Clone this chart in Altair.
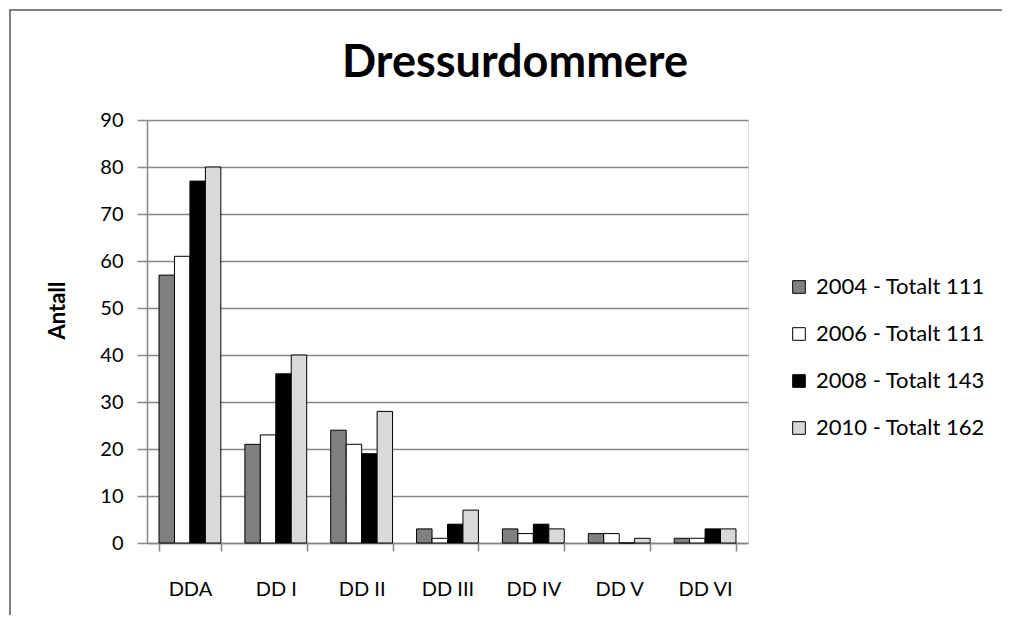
import altair as alt
import pandas as pd

categories = ["DDA", "DD I", "DD II", "DD III", "DD IV", "DD V", "DD VI"]
series = ["2004 - Totalt 111", "2006 - Totalt 111", "2008 - Totalt 143", "2010 - Totalt 162"]
v2004 = [57, 21, 24, 3, 3, 2, 1]
v2006 = [61, 23, 21, 1, 2, 2, 1]
v2008 = [77, 36, 19, 4, 4, 0, 3]
v2010 = [80, 40, 28, 7, 3, 1, 3]
colors = ["#808080", "#ffffff", "#000000", "#d9d9d9"]
y_ticks = [0, 10, 20, 30, 40, 50, 60, 70, 80, 90]
title_text = "Dressurdommere"

rows = []
for s, vals in zip(series, [v2004, v2006, v2008, v2010]):
    for c, v in zip(categories, vals):
        rows.append({"Kategori": c, "Serie": s, "Antall": v})
df = pd.DataFrame(rows)

FONT = "Lato"
GRID = "#868686"
one = pd.DataFrame({"a": [0]})

frame_left = alt.Chart(one).mark_rule(color="#808080", strokeWidth=2).encode(
    x=alt.value(-137), y=alt.value(-111), y2=alt.value(520))
frame_top = alt.Chart(one).mark_rule(color="#808080", strokeWidth=2).encode(
    x=alt.value(-138), x2=alt.value(862), y=alt.value(-110))
title = alt.Chart(one).mark_text(
    text=title_text, font=FONT, fontSize=45, fontWeight="bold", color="black",
    align="center", baseline="alphabetic"
).encode(x=alt.value(368), y=alt.value(-43))

bars = alt.Chart(df).mark_bar(stroke="black", strokeWidth=1).encode(
    x=alt.X("Kategori:N", sort=categories,
            scale=alt.Scale(paddingInner=0.28, paddingOuter=0.14),
            axis=alt.Axis(title=None, tickBand="extent", labelAngle=0,
                          labelFontSize=20, labelPadding=28, tickSize=8,
                          labelColor="black", labelFont=FONT,
                          domainColor=GRID, tickColor=GRID, domainWidth=1.5, tickWidth=1.5)),
    xOffset=alt.XOffset("Serie:N", sort=series),
    y=alt.Y("Antall:Q", scale=alt.Scale(domain=[0, 90]),
            axis=alt.Axis(values=y_ticks, title="Antall", titleFontSize=22,
                          titleFont=FONT, titleFontWeight="bold", titleColor="black",
                          titleX=-78, titleY=190, titleAngle=270,
                          labelFontSize=20, labelPadding=14, tickSize=10,
                          labelColor="black", labelFont=FONT,
                          grid=True, gridColor=GRID, gridWidth=1.5,
                          domainColor=GRID, tickColor=GRID, domainWidth=1.5, tickWidth=1.5)),
    fill=alt.Fill("Serie:N", sort=series,
                  scale=alt.Scale(domain=series, range=colors),
                  legend=alt.Legend(title=None, orient="none", legendX=641, legendY=156,
                                    symbolType="square", symbolSize=160,
                                    symbolStrokeColor="black", symbolStrokeWidth=1,
                                    labelFontSize=22, labelFont=FONT, labelColor="black",
                                    labelLimit=400, rowPadding=25, labelOffset=6)),
)

chart = alt.layer(frame_left, frame_top, title, bars).properties(
    width=601, height=423,
    autosize=alt.AutoSizeParams(type="none"),
    padding={"left": 139, "top": 112, "right": 254, "bottom": 72},
).configure_view(stroke=None).configure(background="white")

chart.save("out.html", embed_options={"renderer": "svg", "actions": False})
